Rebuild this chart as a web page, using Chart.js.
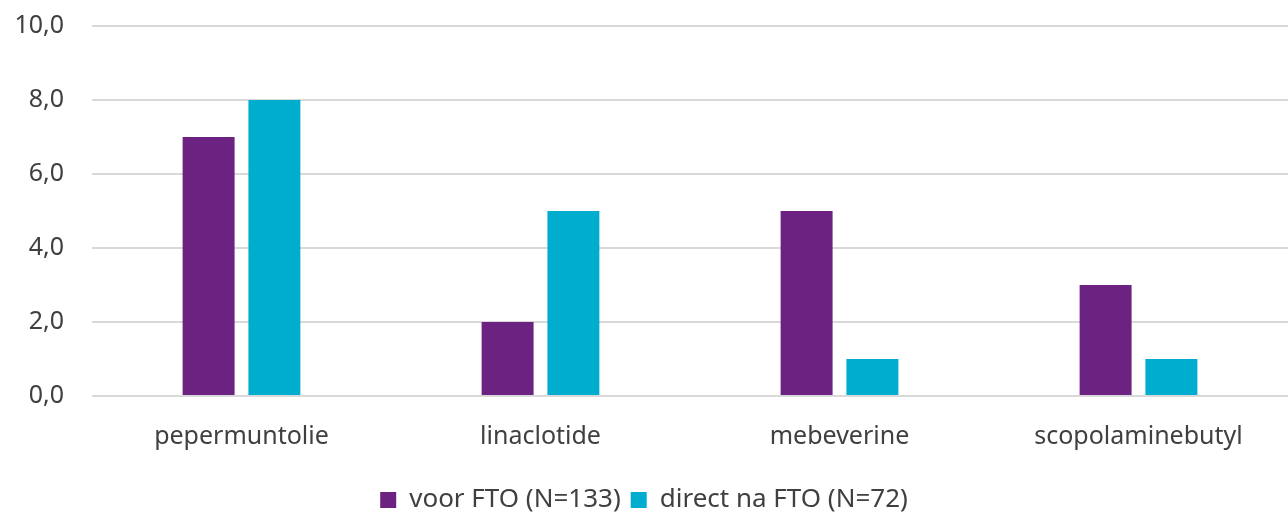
<!DOCTYPE html>
<html>
<head>
<meta charset="utf-8">
<script src="https://cdn.jsdelivr.net/npm/chart.js@4.4.1/dist/chart.umd.min.js"></script>
<style>
  html, body { margin: 0; padding: 0; background: #fff; }
  #wrap { width: 1288px; height: 515px; }
</style>
</head>
<body>
<div id="wrap"><canvas id="chart"></canvas></div>
<script>
// medication categories and share per group
var categories = ["pepermuntolie", "linaclotide", "mebeverine", "scopolaminebutyl"];
var voorFTO = [7, 2, 5, 3];
var directNaFTO = [8, 5, 1, 1];
var seriesLabels = ["voor FTO (N=133)", "direct na FTO (N=72)"];
var yTicks = [0, 2, 4, 6, 8, 10];

var textColor = "#404040";
var fontFamily = "'Noto Sans', 'Liberation Sans', sans-serif";

var ctx = document.getElementById("chart");
var myChart = new Chart(ctx, {
    type: 'bar',
    data: {
        labels: categories,
        datasets: [
            {
                label: seriesLabels[0],
                data: voorFTO,
                backgroundColor: "#6c2280",
                borderWidth: 0
            }, {
                label: seriesLabels[1],
                data: directNaFTO,
                backgroundColor: "#00adcf",
                borderWidth: 0
            }
        ]
    },
    options: {
        responsive: true,
        maintainAspectRatio: false,
        animation: false,
        datasets: {
            bar: { categoryPercentage: 0.44, barPercentage: 0.79 }
        },
        // negative bottom padding pulls the legend down to the canvas edge
        layout: { padding: { top: 0, right: 0, bottom: -8, left: 0 } },
        plugins: {
            tooltip: { enabled: false },
            legend: {
                position: 'bottom',
                labels: {
                    boxWidth: 16,
                    boxHeight: 16,
                    padding: 10,
                    color: textColor,
                    font: { family: fontFamily, size: 26 }
                }
            }
        },
        scales: {
            x: {
                grid: { display: false, drawTicks: false },
                border: { display: false },
                ticks: {
                    color: textColor,
                    padding: 28,
                    font: { family: fontFamily, size: 25, lineHeight: 1 }
                }
            },
            y: {
                min: 0,
                max: 10,
                afterBuildTicks: function(scale) {
                    scale.ticks = yTicks.map(function(v) { return { value: v }; });
                },
                afterFit: function(scale) {
                    scale.width = 92;
                    scale.paddingTop = 26;
                    scale.paddingBottom = 0;
                },
                grid: { color: "#d9d9d9", lineWidth: 2, drawTicks: false },
                border: { display: false },
                ticks: {
                    color: textColor,
                    padding: 28,
                    font: { family: fontFamily, size: 25 },
                    callback: function(v) { return v.toFixed(1).replace('.', ','); }
                }
            }
        }
    }
});
</script>
</body>
</html>
